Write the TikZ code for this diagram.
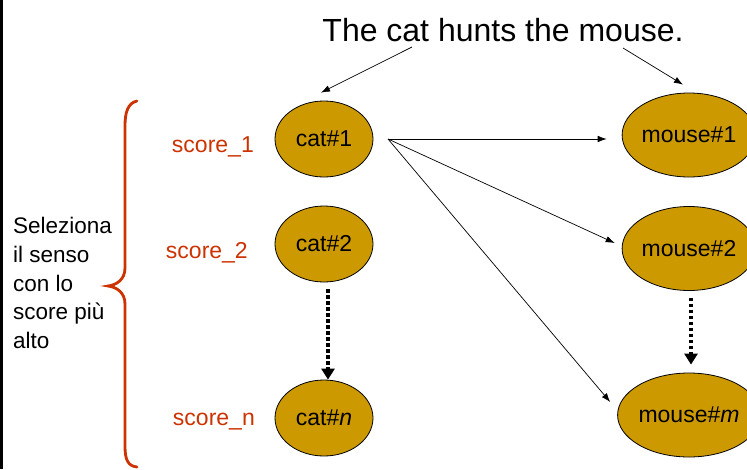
\documentclass[tikz,border=0pt]{standalone}
\usepackage{fontspec}
\setmainfont{Liberation Sans}
\usetikzlibrary{shapes.geometric,arrows.meta,calc}
\definecolor{gold}{HTML}{CC9900}
\definecolor{rust}{HTML}{CC3300}
\begin{document}
\begin{tikzpicture}[x=1pt,y=-1pt,
  sense/.style={ellipse,draw=black,line width=0.8pt,fill=gold,inner sep=0pt,
    font=\fontsize{23}{27}\selectfont},
  catnode/.style={sense,minimum width=98pt,minimum height=76pt},
  mousenode/.style={sense,minimum width=118pt,minimum height=84pt},
  scorelbl/.style={anchor=base east,text=rust,inner sep=0pt,font=\fontsize{23}{27}\selectfont},
  thinarrow/.style={line width=0.7pt,-{Latex[length=9pt,width=6.5pt]}},
  dotarrow/.style={line width=3.5pt,dash pattern=on 3.5pt off 2.5pt,
    -{Triangle[length=11pt,width=13pt]}}
]
\useasboundingbox (0,0) rectangle (747,469);
\fill[white] (0,0) rectangle (747,469);
\fill[black] (0,0) rectangle (3,469);

% title
\node[anchor=base,inner sep=0pt,font=\fontsize{32}{38}\selectfont] (title) at (503,41) {The cat hunts the mouse.};
\coordinate (t1) at (412,47);
\coordinate (t2) at (623,48);

% cats
\node[catnode] (cat1) at (324,139) {cat\#1};
\node[catnode] (cat2) at (324,244) {cat\#2};
\node[catnode] (catn) at (324,418) {cat\#\textit{n}};

% mice
\node[mousenode] (mouse1) at (689,135) {mouse\#1};
\node[mousenode] (mouse2) at (689,248.5) {mouse\#2};
\node[mousenode] (mousem) at (689,415) {mouse\#\textit{m}};

% scores
\node[scorelbl] (s1) at (254,152) {score\_1};
\node[scorelbl] (s2) at (248,258) {score\_2};
\node[scorelbl] (sn) at (255,425) {score\_n};

% left text
\node[anchor=west,align=left,inner sep=0pt,font=\fontsize{22.5}{28.75}\selectfont] (sel) at (13,283)
  {Seleziona\\il senso\\con lo\\score più\\alto};

% brace
\draw[rust,line width=2.8pt,line cap=round]
  (137,101) .. controls (128,103) and (125,112) .. (125,126)
  -- (125,268) .. controls (125,280) and (116,285) .. (108,286)
  .. controls (116,287) and (125,292) .. (125,304)
  -- (125,446) .. controls (125,460) and (128,466) .. (137,467);

% title arrows
\draw[thinarrow] (t1) -- ($(cat1.north)+(-3,-8)$);
\draw[thinarrow] (t2) -- ($(mouse1.north)+(-6,-8)$);

% fan
\coordinate (src) at (388,139);
\draw[thinarrow] (src) -- ($(mouse1.west)+(-15,4)$);
\draw[thinarrow] (src) -- ($(mouse2.west)+(-7,-5.5)$);
\draw[thinarrow] (src) -- ($(mousem.west)+(-7,-13)$);

% dotted arrows
\draw[dotarrow] ($(cat2.south)+(4,7)$) -- ($(catn.north)+(4,0)$);
\draw[dotarrow] ($(mouse2.south)+(2,7)$) -- ($(mousem.north)+(2,-8)$);
\end{tikzpicture}
\end{document}
